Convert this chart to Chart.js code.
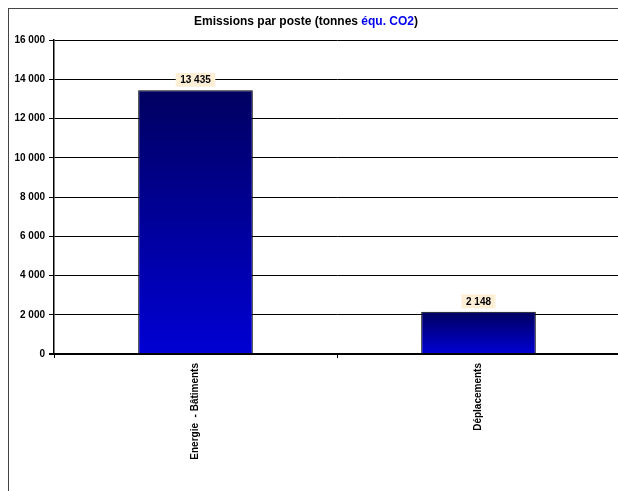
<!DOCTYPE html>
<html>
<head>
<meta charset="utf-8">
<script src="https://cdn.jsdelivr.net/npm/chart.js@4/dist/chart.umd.min.js"></script>
<style>
  html, body { margin: 0; padding: 0; background: #fff; overflow: hidden; width: 618px; height: 491px; }
  #wrap { position: relative; width: 640px; height: 491px; }
  #frame { position: absolute; left: 8px; top: 8px; width: 700px; height: 600px;
           border-left: 1px solid #444; border-top: 1px solid #444; }
  canvas { position: absolute; left: 0; top: 0; }
</style>
</head>
<body>
<div id="wrap">
  <div id="frame"></div>
  <canvas id="chart" width="640" height="491"></canvas>
</div>
<script>
// Data
var categories = ['Energie  - Bâtiments', 'Déplacements'];
var emissions  = [13435, 2148];
var yTicks     = [0, 2000, 4000, 6000, 8000, 10000, 12000, 14000, 16000];

var FONT = 'Arial, "Liberation Sans", sans-serif';

function fmt(v) {
  return String(v).replace(/\B(?=(\d{3})+(?!\d))/g, ' ');
}

// title with the blue part
var titlePlugin = {
  id: 'mixedTitle',
  afterDraw: function (chart) {
    var ctx = chart.ctx;
    var parts = [
      { t: 'Emissions par poste (tonnes ', c: '#000' },
      { t: 'équ. CO2', c: '#0000ee' },
      { t: ')', c: '#000' }
    ];
    ctx.save();
    ctx.font = 'bold 12px ' + FONT;
    ctx.textBaseline = 'middle';
    var total = 0;
    parts.forEach(function (p) { total += ctx.measureText(p.t).width; });
    var x = 306 - total / 2;
    parts.forEach(function (p) {
      ctx.fillStyle = p.c;
      ctx.fillText(p.t, x, 21.5);
      x += ctx.measureText(p.t).width;
    });
    ctx.restore();
  }
};

// value labels on beige background
var valuePlugin = {
  id: 'valueLabels',
  afterDatasetsDraw: function (chart) {
    var ctx = chart.ctx;
    var meta = chart.getDatasetMeta(0);
    ctx.save();
    ctx.font = 'bold 10px ' + FONT;
    ctx.textAlign = 'center';
    ctx.textBaseline = 'middle';
    meta.data.forEach(function (bar, i) {
      var txt = fmt(emissions[i]);
      var w = ctx.measureText(txt).width + 9;
      var cy = bar.y - 10.5;
      ctx.fillStyle = '#fdefd6';
      ctx.fillRect(bar.x - w / 2, cy - 7, w, 14);
      ctx.fillStyle = '#000';
      ctx.fillText(txt, bar.x, cy + 0.5);
    });
    ctx.restore();
  }
};

function barGradient(c) {
  var chart = c.chart;
  if (!chart.chartArea) return '#0000cc';
  var y = chart.scales.y;
  var top = y.getPixelForValue(c.raw);
  var bot = y.getPixelForValue(0);
  var g = chart.ctx.createLinearGradient(0, top, 0, bot);
  g.addColorStop(0, '#000060');
  g.addColorStop(0.5, '#00009a');
  g.addColorStop(1, '#0000d4');
  return g;
}

new Chart(document.getElementById('chart'), {
  type: 'bar',
  data: {
    labels: categories,
    datasets: [{
      data: emissions,
      backgroundColor: barGradient,
      borderColor: '#000',
      borderWidth: 1,
      barPercentage: 0.405,
      categoryPercentage: 1
    }]
  },
  options: {
    responsive: false,
    animation: false,
    events: [],
    layout: { padding: { left: 0, right: 20, top: 40, bottom: 0 } },
    plugins: { legend: { display: false }, tooltip: { enabled: false }, title: { display: false } },
    scales: {
      x: {
        afterFit: function (s) { s.height = 137; },
        grid: { offset: true, drawOnChartArea: false, color: '#000', tickLength: 4 },
        border: { color: '#000', width: 2 },
        ticks: {
          color: '#000', font: { family: FONT, size: 10, weight: 'bold' },
          minRotation: 90, maxRotation: 90, padding: 5, autoSkip: false
        }
      },
      y: {
        min: 0, max: 16000,
        afterFit: function (s) { s.width = 54; },
        afterBuildTicks: function (s) { s.ticks = yTicks.map(function (v) { return { value: v }; }); },
        grid: {
          color: '#000',
          lineWidth: function (c) { return c.tick && c.tick.value === 0 ? 2 : 1; },
          tickLength: 5
        },
        border: { color: '#000', width: 1.5 },
        ticks: {
          color: '#000', font: { family: FONT, size: 10, weight: 'bold' }, padding: 4,
          callback: function (v) { return fmt(v); }
        }
      }
    }
  },
  plugins: [titlePlugin, valuePlugin]
});
</script>
</body>
</html>
